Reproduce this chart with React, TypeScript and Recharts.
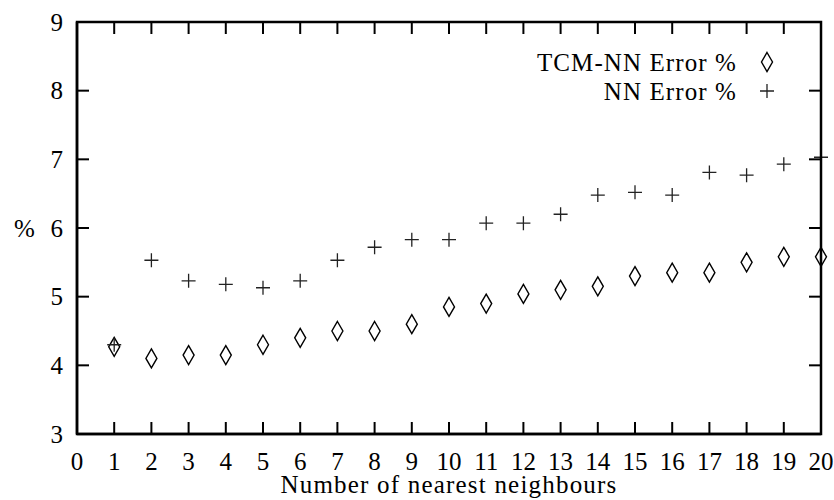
import React from 'react';
import { ScatterChart, Scatter, XAxis, YAxis } from 'recharts';

const neighbours = [1, 2, 3, 4, 5, 6, 7, 8, 9, 10, 11, 12, 13, 14, 15, 16, 17, 18, 19, 20];
const tcmNNError = [4.27, 4.1, 4.15, 4.15, 4.3, 4.4, 4.5, 4.5, 4.6, 4.85, 4.9, 5.04, 5.1, 5.15, 5.3, 5.35, 5.35, 5.5, 5.58, 5.58];
const nnError = [4.3, 5.53, 5.23, 5.18, 5.13, 5.23, 5.53, 5.72, 5.83, 5.83, 6.07, 6.07, 6.2, 6.48, 6.52, 6.48, 6.81, 6.77, 6.93, 7.03];
const xTicks = [0, 1, 2, 3, 4, 5, 6, 7, 8, 9, 10, 11, 12, 13, 14, 15, 16, 17, 18, 19, 20];
const yTicks = [3, 4, 5, 6, 7, 8, 9];
const seriesNames = ['TCM-NN Error %', 'NN Error %'];
const xTitle = 'Number of nearest neighbours';
const yTitle = '%';

const tcmData = neighbours.map((k, i) => ({ k, v: tcmNNError[i] }));
const nnData = neighbours.map((k, i) => ({ k, v: nnError[i] }));

const FONT = '"Liberation Serif", "DejaVu Serif", serif';
const FS = 25;
const TL = 12;

// plot frame (chart layout: margins + axis sizes)
const W = 834;
const H = 500;
const PL = 77;
const PR = W - 13;
const PT = 22;
const PB = H - 66;
const xMin = 0, xMax = 20, yMin = 3, yMax = 9;
const px = (v: number) => PL + ((v - xMin) / (xMax - xMin)) * (PR - PL);
const py = (v: number) => PB - ((v - yMin) / (yMax - yMin)) * (PB - PT);

const Diamond = (props: any) => {
  const { cx, cy } = props;
  return (
    <path
      d={`M${cx},${cy - 9.5} L${cx + 5.5},${cy} L${cx},${cy + 9.5} L${cx - 5.5},${cy} Z`}
      fill="none"
      stroke="#000"
      strokeWidth={1.4}
    />
  );
};

const Plus = (props: any) => {
  const { cx, cy } = props;
  return (
    <path
      d={`M${cx - 7},${cy} L${cx + 7},${cy} M${cx},${cy - 7} L${cx},${cy + 7}`}
      fill="none"
      stroke="#222"
      strokeWidth={1.3}
    />
  );
};

const textProps = { fontFamily: FONT, fontSize: FS, fill: '#000' };

const BottomTick = (props: any) => {
  const { x, y, payload } = props;
  return <text {...textProps} x={x} y={y + 36} textAnchor="middle">{payload.value}</text>;
};

const LeftTick = (props: any) => {
  const { x, y, payload } = props;
  return <text {...textProps} x={x - 14} y={y + 8.5} textAnchor="end">{payload.value}</text>;
};

const lineStyle = { stroke: '#000', strokeWidth: 2.5 };

export default function App() {
  return (
    <div style={{ position: 'absolute', left: 0, top: 0, width: W, height: H, background: '#fff' }}>
      <ScatterChart width={W} height={H} margin={{ top: PT, right: W - PR, bottom: 0, left: 0 }}>
        <XAxis
          xAxisId="bottom"
          dataKey="k"
          type="number"
          domain={[xMin, xMax]}
          ticks={xTicks}
          interval={0}
          orientation="bottom"
          height={H - PB}
          tickSize={0}
          tickMargin={0}
          tick={BottomTick}
          axisLine={lineStyle}
          tickLine={false}
          label={{ value: xTitle, position: 'insideBottom', offset: 7, fill: '#000', fontSize: FS, fontFamily: FONT, letterSpacing: 1.2 }}
        />
        <YAxis
          yAxisId="left"
          dataKey="v"
          type="number"
          domain={[yMin, yMax]}
          ticks={yTicks}
          interval={0}
          orientation="left"
          width={PL}
          tickSize={0}
          tickMargin={0}
          tick={LeftTick}
          axisLine={lineStyle}
          tickLine={false}
          label={{ value: yTitle, position: 'insideLeft', offset: 14, fill: '#000', fontSize: FS, fontFamily: FONT }}
        />
        <Scatter
          name={seriesNames[0]}
          data={tcmData}
          xAxisId="bottom"
          yAxisId="left"
          shape={Diamond}
          isAnimationActive={false}
        />
        <Scatter
          name={seriesNames[1]}
          data={nnData}
          xAxisId="bottom"
          yAxisId="left"
          shape={Plus}
          isAnimationActive={false}
        />
      </ScatterChart>
      <svg width={W} height={H} style={{ position: 'absolute', left: 0, top: 0, pointerEvents: 'none' }}>
        <rect x={PL} y={PT} width={PR - PL} height={PB - PT} fill="none" stroke="#000" strokeWidth={2.5} />
        {xTicks.map((t) => (
          <g key={`x${t}`}>
            <line x1={px(t)} x2={px(t)} y1={PB} y2={PB - TL} stroke="#000" strokeWidth={2} />
            <line x1={px(t)} x2={px(t)} y1={PT} y2={PT + TL} stroke="#000" strokeWidth={2} />
          </g>
        ))}
        {yTicks.map((t) => (
          <g key={`y${t}`}>
            <line x1={PL} x2={PL + TL} y1={py(t)} y2={py(t)} stroke="#000" strokeWidth={2} />
            <line x1={PR} x2={PR - TL} y1={py(t)} y2={py(t)} stroke="#000" strokeWidth={2} />
          </g>
        ))}
        <text {...textProps} letterSpacing={1.1} x={737} y={71} textAnchor="end">{seriesNames[0]}</text>
        <Diamond cx={767} cy={62} />
        <text {...textProps} letterSpacing={1.1} x={737} y={100} textAnchor="end">{seriesNames[1]}</text>
        <Plus cx={767} cy={91} />
      </svg>
    </div>
  );
}
